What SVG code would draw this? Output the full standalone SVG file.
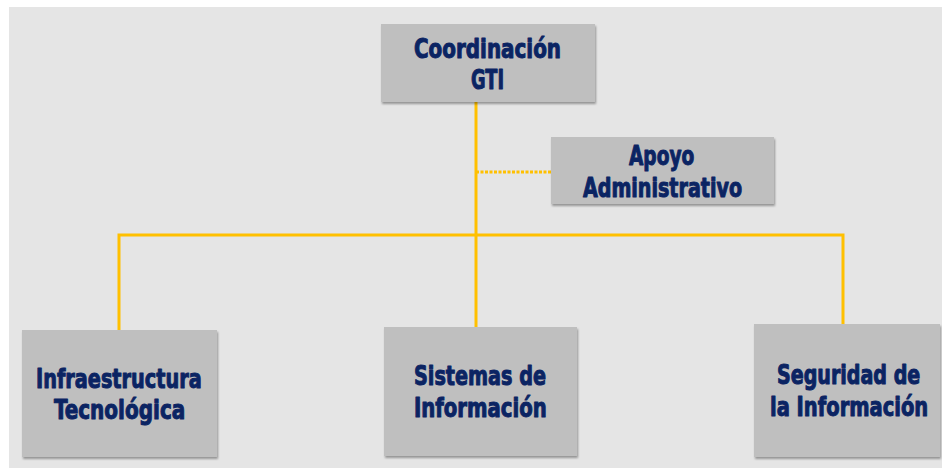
<svg xmlns="http://www.w3.org/2000/svg" width="942" height="468" viewBox="0 0 942 468">
<defs>
<filter id="sh" x="-5%" y="-5%" width="115%" height="125%">
<feDropShadow dx="1" dy="2" stdDeviation="1.2" flood-color="#000" flood-opacity="0.35"/>
</filter>
<style>
.box{fill:#bfbfbf;filter:url(#sh)}
.t{font-family:"Liberation Sans Narrow","DejaVu Sans Condensed","Liberation Sans",sans-serif;font-weight:bold;font-size:27px;fill:#0b2463;stroke:#0b2463;stroke-width:1;stroke-linejoin:round}
.ln{fill:none;stroke:#ffc000;stroke-width:3}
.dt{fill:none;stroke:#ffc000;stroke-width:3;stroke-dasharray:3 1.5}
</style>
</defs>
<rect x="0" y="0" width="942" height="468" fill="#ffffff"/>
<rect x="9" y="7" width="933" height="461" fill="#e5e5e5"/>
<g id="connectors">
<path class="ln" d="M476 102 V327"/>
<path class="ln" d="M119 330 V235 H843 V324"/>
<path class="dt" d="M476 172 H551"/>
</g>
<g id="coordinacion">
<rect class="box" x="381" y="24" width="214" height="78"/>
<text class="t" transform="translate(414 58) scale(0.75 1)" textLength="196" lengthAdjust="spacingAndGlyphs">Coordinación</text>
<text class="t" transform="translate(471 89) scale(0.75 1)" textLength="44" lengthAdjust="spacingAndGlyphs">GTI</text>
</g>
<g id="apoyo">
<rect class="box" x="551" y="137" width="223" height="67"/>
<text class="t" transform="translate(629 165) scale(0.75 1)" textLength="87" lengthAdjust="spacingAndGlyphs">Apoyo</text>
<text class="t" transform="translate(583 197) scale(0.75 1)" textLength="212" lengthAdjust="spacingAndGlyphs">Administrativo</text>
</g>
<g id="infraestructura">
<rect class="box" x="22" y="330" width="195" height="127"/>
<text class="t" transform="translate(36 388) scale(0.75 1)" textLength="221" lengthAdjust="spacingAndGlyphs">Infraestructura</text>
<text class="t" transform="translate(54 419) scale(0.75 1)" textLength="175" lengthAdjust="spacingAndGlyphs">Tecnológica</text>
</g>
<g id="sistemas">
<rect class="box" x="384" y="327" width="193" height="129"/>
<text class="t" transform="translate(414 385) scale(0.75 1)" textLength="176" lengthAdjust="spacingAndGlyphs">Sistemas de</text>
<text class="t" transform="translate(414 417) scale(0.75 1)" textLength="177" lengthAdjust="spacingAndGlyphs">Información</text>
</g>
<g id="seguridad">
<rect class="box" x="754" y="324" width="186" height="133"/>
<text class="t" transform="translate(777 384) scale(0.75 1)" textLength="191" lengthAdjust="spacingAndGlyphs">Seguridad de</text>
<text class="t" transform="translate(770 416) scale(0.75 1)" textLength="211" lengthAdjust="spacingAndGlyphs">la Información</text>
</g>
</svg>
